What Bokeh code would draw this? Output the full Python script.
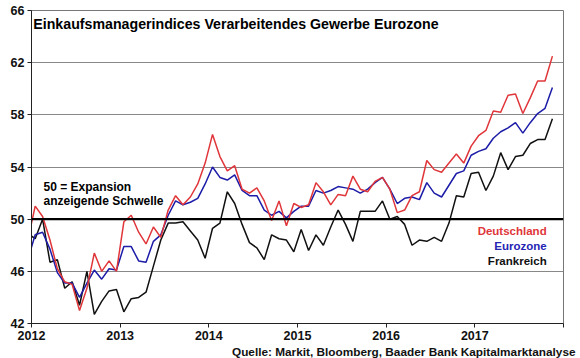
from bokeh.plotting import figure
from bokeh.models import Range1d, FixedTicker, Label, Title, Span
from bokeh.embed import file_html
from bokeh.resources import INLINE

# Monthly PMI, Dec 2011 .. Nov 2017 (plotted mid-month)
deutschland = [48.4,
    51.0, 50.2, 48.4, 46.2, 45.2, 45.0, 43.0, 44.7, 47.4, 46.0, 46.8, 46.0,
    49.8, 50.3, 49.0, 48.1, 49.4, 48.6, 50.7, 51.8, 51.1, 51.7, 52.7, 54.3,
    56.5, 54.8, 53.7, 54.1, 52.3, 52.0, 52.4, 51.4, 49.9, 51.4, 49.5, 51.2,
    50.9, 51.1, 52.8, 52.1, 51.1, 51.9, 51.8, 53.3, 52.3, 52.1, 52.9, 53.2,
    52.3, 50.5, 50.7, 51.8, 52.1, 54.5, 53.8, 53.6, 54.3, 55.0, 54.3, 55.6,
    56.4, 56.8, 58.3, 58.2, 59.5, 59.6, 58.1, 59.3, 60.6, 60.6, 62.5]
eurozone = [46.9,
    48.8, 49.0, 47.7, 45.9, 45.1, 45.1, 44.0, 45.1, 46.1, 45.4, 46.2, 46.1,
    47.9, 47.9, 46.8, 46.7, 48.3, 48.8, 50.3, 51.4, 51.1, 51.3, 51.6, 52.7,
    54.0, 53.2, 53.0, 53.4, 52.2, 51.8, 51.8, 50.7, 50.3, 50.6, 50.1, 50.6,
    51.0, 51.0, 52.2, 52.0, 52.2, 52.5, 52.4, 52.3, 52.0, 52.3, 52.8, 53.2,
    52.3, 51.2, 51.6, 51.7, 51.5, 52.8, 52.0, 51.7, 52.6, 53.5, 53.7, 54.9,
    55.2, 55.4, 56.2, 56.7, 57.0, 57.4, 56.6, 57.4, 58.1, 58.5, 60.1]
frankreich = [48.9,
    48.5, 50.0, 46.7, 46.9, 44.7, 45.2, 43.4, 46.0, 42.7, 43.7, 44.5, 44.6,
    42.9, 43.9, 44.0, 44.4, 46.4, 48.4, 49.7, 49.7, 49.8, 49.1, 48.4, 47.0,
    49.3, 49.7, 52.1, 51.2, 49.6, 48.2, 47.8, 46.9, 48.8, 48.5, 48.4, 47.5,
    49.2, 47.6, 48.8, 48.0, 49.4, 50.7, 49.6, 48.3, 50.6, 50.6, 50.6, 51.4,
    50.0, 50.2, 49.6, 48.0, 48.4, 48.3, 48.6, 48.3, 49.7, 51.8, 51.7, 53.5,
    53.6, 52.2, 53.3, 55.1, 53.8, 54.8, 54.9, 55.8, 56.1, 56.1, 57.7]
months = [2011 + (11 + i + 0.5) / 12 for i in range(len(deutschland))]

years = [2012, 2013, 2014, 2015, 2016, 2017, 2018]
year_labels = ["2012", "2013", "2014", "2015", "2016", "2017", ""]
y_ticks = [42, 46, 50, 54, 58, 62, 66]

title_text = "Einkaufsmanagerindices Verarbeitendes Gewerbe Eurozone"
source_text = "Quelle: Markit, Bloomberg, Baader Bank Kapitalmarktanalyse"
series_names = ["Deutschland", "Eurozone", "Frankreich"]
threshold = 50

FONT = "Liberation Sans"
RED = "#e0363a"
BLUE = "#1c1ca8"
BLACK = "#111111"

p = figure(width=580, height=358, output_backend="svg", toolbar_location=None,
           x_range=Range1d(2012, 2018), y_range=Range1d(42, 66),
           min_border_left=31, min_border_right=17, min_border_top=10, min_border_bottom=10)
p.background_fill_color = "white"
p.border_fill_color = "white"
p.outline_line_color = "#777777"
p.outline_line_width = 1

p.xaxis.ticker = FixedTicker(ticks=years)
p.xaxis.major_label_overrides = {y: l for y, l in zip(years, year_labels)}
p.yaxis.ticker = FixedTicker(ticks=y_ticks)
for ax in (p.xaxis, p.yaxis):
    ax.axis_line_color = "#222222"
    ax.axis_line_width = 1
    ax.major_tick_line_color = "#222222"
    ax.major_tick_out = 4
    ax.major_tick_in = 0
    ax.minor_tick_line_color = None
    ax.major_label_text_font = FONT
    ax.major_label_text_font_style = "bold"
    ax.major_label_text_font_size = "12.5px"
    ax.major_label_text_color = "#111111"
    ax.major_label_standoff = 3
p.xgrid.grid_line_color = None
p.ygrid.grid_line_color = "#888888"
p.ygrid.grid_line_width = 1

p.add_layout(Span(location=threshold, dimension="width", line_color="#000000", line_width=2.2))

p.line(months, frankreich, line_color=BLACK, line_width=1.5)
p.line(months, eurozone, line_color=BLUE, line_width=1.5)
p.line(months, deutschland, line_color=RED, line_width=1.5)

p.add_layout(Label(x=2012.02, y=65.55, text=title_text, text_font=FONT, text_font_style="bold",
                   text_font_size="14.2px", text_baseline="top", text_color="#000000"))
p.add_layout(Label(x=2012.135, y=52.45, text="50 = Expansion", text_font=FONT, text_font_style="bold",
                   text_font_size="12px", text_baseline="middle", text_color="#000000"))
p.add_layout(Label(x=2012.135, y=51.4, text="anzeigende Schwelle", text_font=FONT, text_font_style="bold",
                   text_font_size="12px", text_baseline="middle", text_color="#000000"))
for name, yy, col in zip(series_names, [49.1, 47.96, 46.78], ["#e0363a", "#2424b4", "#111111"]):
    p.add_layout(Label(x=2017.81, y=yy, text=name, text_font=FONT, text_font_style="bold",
                       text_font_size="11.5px", text_baseline="middle", text_align="right", text_color=col))

p.add_layout(Title(text=source_text, align="right", text_font=FONT, text_font_style="bold",
                   text_font_size="11.8px", text_color="#111111", standoff=0, offset=-12), "below")

open("out.html", "w").write(file_html(p, INLINE))
